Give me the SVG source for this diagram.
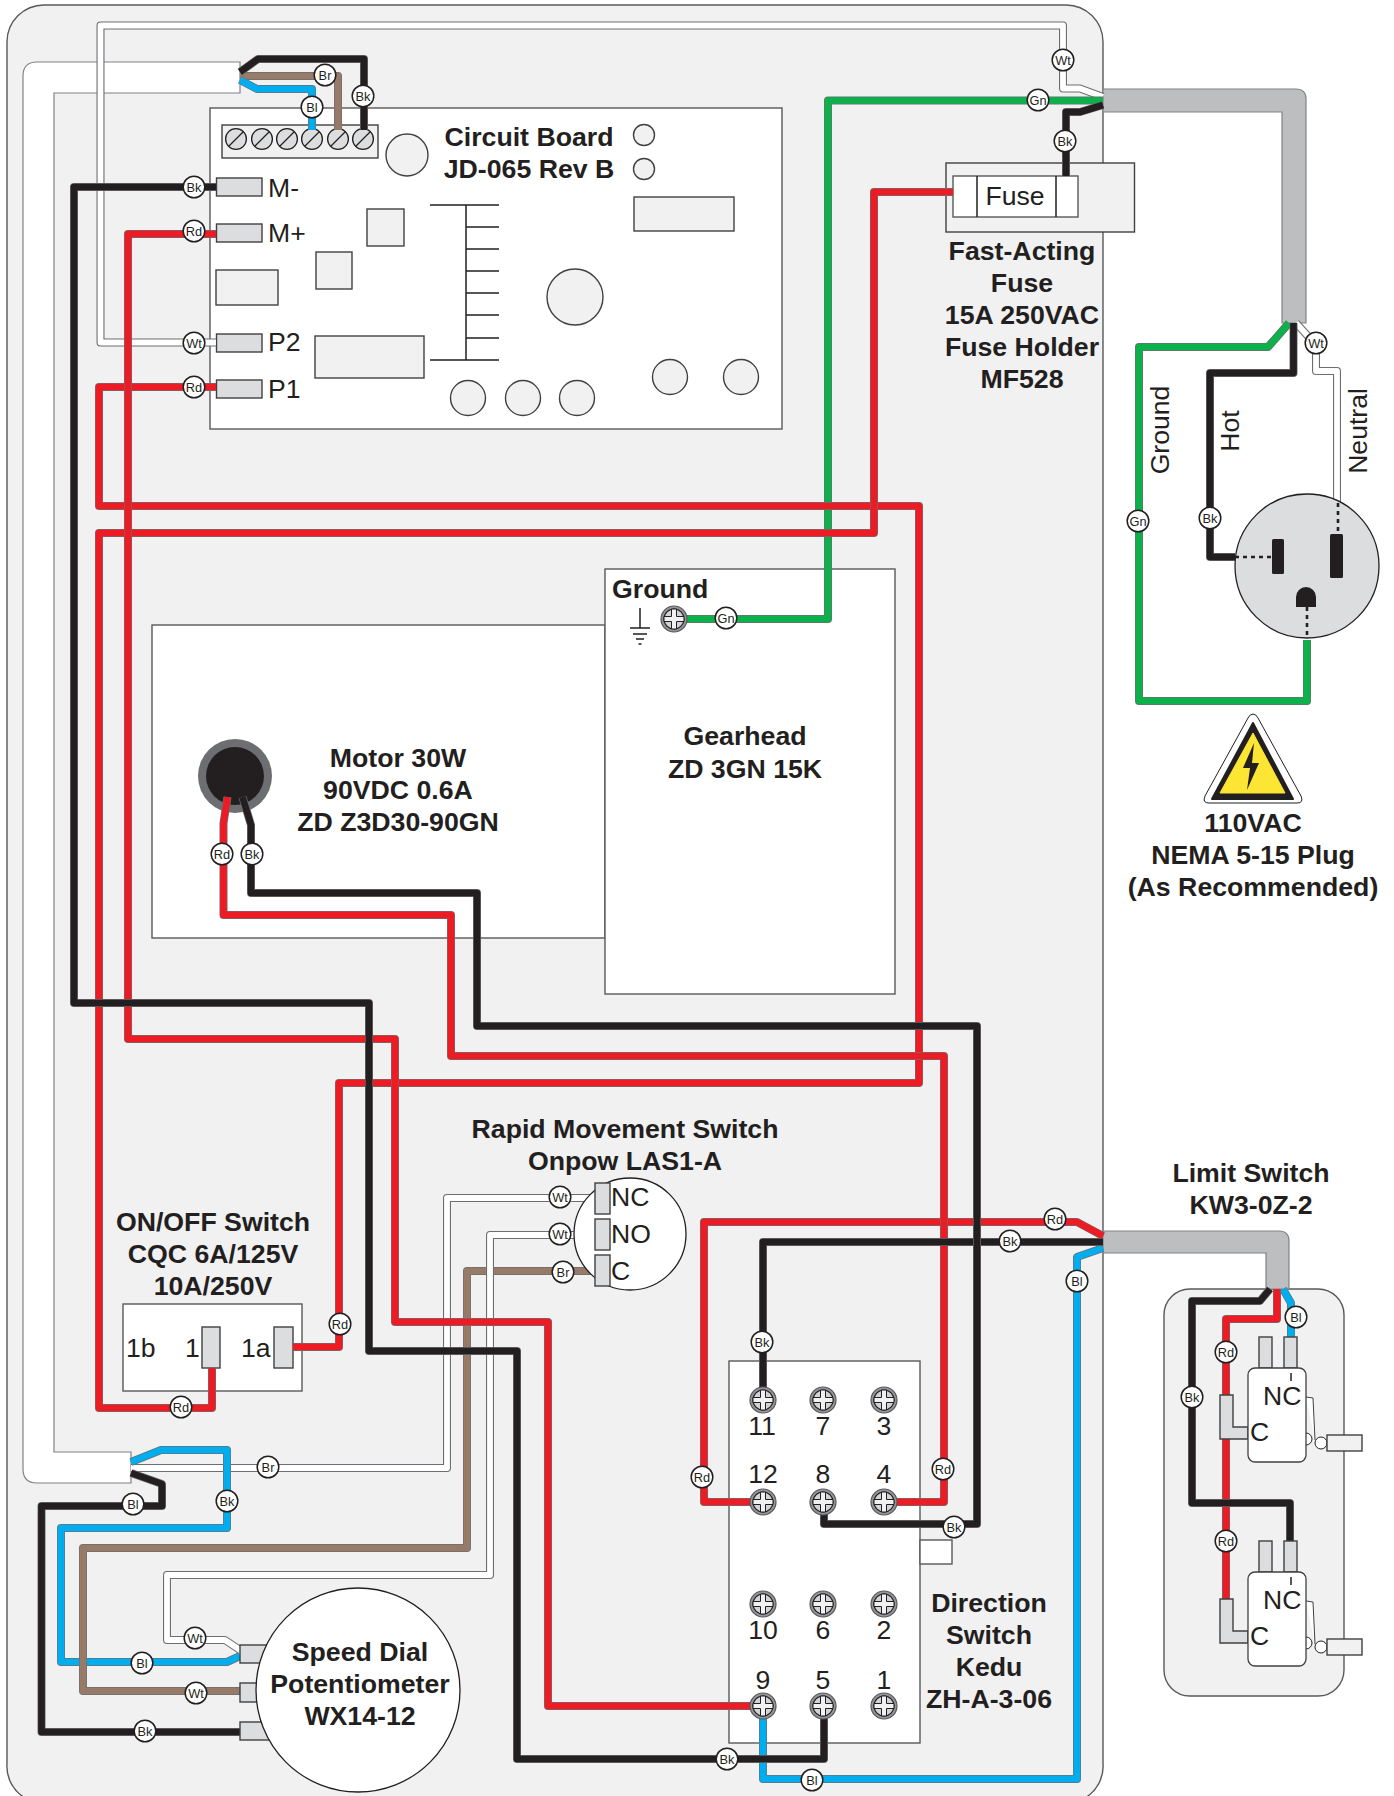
<svg xmlns="http://www.w3.org/2000/svg" width="1394" height="1796" viewBox="0 0 1394 1796">
<style>
text{font-family:"Liberation Sans",Arial,sans-serif;fill:#231f20}
.t{font-size:26.7px;font-weight:700;text-anchor:middle}
.r{font-size:26.6px}
.c{text-anchor:middle}
.box{fill:#fff;stroke:#58595b;stroke-width:1.4}
.pale{fill:#f1f1f2;stroke:#414042;stroke-width:1.4}
.term{fill:#dcddde;stroke:#414042;stroke-width:1.4}
.ln{fill:none;stroke:#231f20;stroke-width:1.5}
.wire path{fill:none;stroke-linejoin:round}
.cs{stroke:#6d6e71;stroke-width:8}
.rd{stroke:#ed1c24;stroke-width:6.6}
.bk{stroke:#231f20;stroke-width:6.6}
.gn{stroke:#0db14b;stroke-width:6.6}
.bl{stroke:#00aeef;stroke-width:6.6}
.br{stroke:#977b68;stroke-width:6.6}
.wt{stroke:#fff;stroke-width:5.8}
.lb circle{fill:#fff;stroke:#231f20;stroke-width:1.5}
.lb text{font-size:12.8px;text-anchor:middle}
.dot{fill:none;stroke:#231f20;stroke-width:2.6;stroke-dasharray:4 4}
</style>
<defs>
<g id="scr"><circle r="13" fill="#939598" stroke="#58595b" stroke-width="1.2"/><circle r="10" fill="#d1d3d4" stroke="#231f20" stroke-width="1.2"/><path d="M-10 -2.5H-2.5V-10H2.5V-2.5H10V2.5H2.5V10H-2.5V2.5H-10Z" fill="#f1f1f2" stroke="#231f20" stroke-width="1"/></g>
<g id="slot"><circle r="10.4" fill="#dcddde" stroke="#231f20" stroke-width="1.3"/><path d="M-7.5 7.5L7.5 -7.5" stroke="#231f20" stroke-width="1.3"/></g>
<g id="micro">
<rect x="1259" y="1337" width="13" height="31" class="term"/>
<rect x="1284" y="1337" width="13" height="31" class="term"/>
<path d="M1220 1395H1233V1427H1248V1439H1220Z" class="term"/>
<path d="M1306 1397L1313 1398L1315 1440" fill="#fff" stroke="#414042" stroke-width="1"/>
<path d="M1306 1433A6 6 0 0 1 1306 1445" fill="#fff" stroke="#231f20"/>
<rect x="1248" y="1368" width="58" height="94" rx="7" fill="#fff" stroke="#414042" stroke-width="1.3"/>
<circle cx="1321" cy="1443" r="6" fill="#fff" stroke="#231f20"/>
<rect x="1327" y="1435" width="35" height="16" class="pale"/>
<path d="M1291 1373V1381" class="ln"/>
</g>
</defs>

<path id="panel" d="M44 5H1066A37 37 0 0 1 1103 42V1763A37 37 0 0 1 1083 1799H27A37 37 0 0 1 7 1763V42A37 37 0 0 1 44 5Z" fill="#f1f1f2" stroke="#58595b" stroke-width="1.4"/>

<path id="cable-white" d="M240 62H37Q23 62 23 76V1469Q23 1483 37 1483H131V1452H54V93H240Z" fill="#fff" stroke="#808285" stroke-width="1.2"/>
<path id="cable-mains" d="M1103 89H1296Q1306 89 1306 99V323H1282V112H1103Z" fill="#bcbec0" stroke="#808285" stroke-width="1.2"/>

<g id="circuit-board">
<rect x="210" y="108" width="572" height="321" class="box"/>
<rect x="222" y="125" width="156" height="33" class="pale"/>
<use href="#slot" x="236" y="139"/><use href="#slot" x="262" y="139"/><use href="#slot" x="287" y="139"/><use href="#slot" x="312" y="139"/><use href="#slot" x="338" y="139"/><use href="#slot" x="363" y="139"/>
<circle cx="407" cy="155" r="21" class="pale"/>
<circle cx="644" cy="135" r="10.5" class="pale"/><circle cx="644" cy="169" r="10.5" class="pale"/>
<rect x="634" y="197" width="100" height="34" class="pale"/>
<rect x="367" y="209" width="37" height="37" class="pale"/>
<rect x="316" y="252" width="36" height="37" class="pale"/>
<rect x="216" y="270" width="62" height="35" class="pale"/>
<rect x="315" y="336" width="109" height="42" class="pale"/>
<path d="M430 205H499M466 205V360M430 360H499M466 227H499M466 249H499M466 271H499M466 293H499M466 315H499M466 338H499" class="ln"/>
<circle cx="575" cy="297" r="28" class="pale"/>
<circle cx="468" cy="398" r="17.5" class="pale"/><circle cx="523" cy="398" r="17.5" class="pale"/><circle cx="577" cy="398" r="17.5" class="pale"/><circle cx="670" cy="377" r="17.5" class="pale"/><circle cx="741" cy="377" r="17.5" class="pale"/>
<rect x="216.500" y="178" width="45.500" height="18" class="term"/>
<rect x="216.500" y="224" width="45.500" height="18" class="term"/>
<rect x="216.500" y="334" width="45.500" height="18" class="term"/>
<rect x="216.500" y="380" width="45.500" height="18" class="term"/>
<text x="268" y="197" class="r">M-</text><text x="268" y="242" class="r">M+</text><text x="268" y="351" class="r">P2</text><text x="268" y="398" class="r">P1</text>
<text x="529" y="146" class="t">Circuit Board</text><text x="529" y="178" class="t">JD-065 Rev B</text>
</g>

<g id="fuse">
<rect x="946" y="163" width="188.500" height="69" class="pale"/>
<rect x="953" y="176" width="125" height="41" class="box"/>
<path d="M977 176V217M1056 176V217" class="ln"/>
<text x="1015" y="205" class="r c">Fuse</text>
<text x="1022" y="260" class="t">Fast-Acting</text><text x="1022" y="292" class="t">Fuse</text><text x="1022" y="324" class="t">15A 250VAC</text><text x="1022" y="356" class="t">Fuse Holder</text><text x="1022" y="388" class="t">MF528</text>
</g>

<g id="motor">
<rect x="152" y="625" width="453" height="313" class="box"/>
<circle cx="235" cy="776" r="37" fill="#6d6e71"/><circle cx="235" cy="776" r="29" fill="#231f20"/>
<text x="398" y="767" class="t">Motor 30W</text><text x="398" y="799" class="t">90VDC 0.6A</text><text x="398" y="831" class="t">ZD Z3D30-90GN</text>
</g>
<g id="gearhead">
<rect x="605" y="569" width="290" height="425" class="box"/>
<text x="612" y="598" font-size="26.700" font-weight="700">Ground</text>
<path d="M640 608V628M630 628H650M633 634H647M636 639H644M638.500 644H641.500" class="ln"/>
<text x="745" y="745" class="t">Gearhead</text><text x="745" y="778" class="t">ZD 3GN 15K</text>
</g>
<g id="direction-switch">
<rect x="729" y="1361" width="191" height="382" class="box"/>
<rect x="920" y="1540" width="32" height="24" class="box"/>
<g class="r c">
<text x="762" y="1435">11</text><text x="823" y="1435">7</text><text x="884" y="1435">3</text>
<text x="763" y="1483">12</text><text x="823" y="1483">8</text><text x="884" y="1483">4</text>
<text x="763" y="1639">10</text><text x="823" y="1639">6</text><text x="884" y="1639">2</text>
<text x="763" y="1689">9</text><text x="823" y="1689">5</text><text x="884" y="1689">1</text>
</g>
<text x="989" y="1612" class="t">Direction</text><text x="989" y="1644" class="t">Switch</text><text x="989" y="1676" class="t">Kedu</text><text x="989" y="1708" class="t">ZH-A-3-06</text>
</g>
<g id="onoff-switch">
<rect x="123" y="1304" width="179" height="87" class="box"/>
<rect x="202" y="1327" width="18" height="41" class="term"/>
<rect x="274" y="1327" width="19" height="41" class="term"/>
<text x="126" y="1357" class="r">1b</text><text x="185" y="1357" class="r">1</text><text x="241" y="1357" class="r">1a</text>
<text x="213" y="1231" class="t">ON/OFF Switch</text><text x="213" y="1263" class="t">CQC 6A/125V</text><text x="213" y="1295" class="t">10A/250V</text>
</g>
<g id="limit-box">
<rect x="1164" y="1289" width="180" height="407" rx="26" fill="#f1f1f2" stroke="#58595b" stroke-width="1.4"/>
<text x="1251" y="1182" class="t">Limit Switch</text><text x="1251" y="1214" class="t">KW3-0Z-2</text>
</g>
<path id="cable-limit" d="M1103 1231H1279Q1289 1231 1289 1241V1289H1266V1253H1103Z" fill="#bcbec0" stroke="#808285" stroke-width="1.2"/>

<g id="connectors" class="wire">
<path class="cs" d="M216 342.500H100.500V25.500H1063V88.500H1080L1103 97"/><path class="wt" d="M216 342.500H100.500V25.500H1063V88.500H1080L1103 97"/>
<path class="cs" d="M131 1468H447V1198H596"/><path class="wt" d="M131 1468H447V1198H596"/>
<path class="cs" d="M1296 323L1316 345V371H1337V510"/><path class="wt" d="M1296 323L1316 345V371H1337V510"/>
<path class="cs" d="M131 1462L161 1450H227V1528H61V1662H227L240 1656"/><path class="bl" d="M131 1462L161 1450H227V1528H61V1662H227L240 1656"/>
<path class="cs" d="M596 1271H467V1548H83V1691H240"/><path class="br" d="M596 1271H467V1548H83V1691H240"/>
<path class="cs" d="M596 1235H490V1575H167V1640H225L240 1650"/><path class="wt" d="M596 1235H490V1575H167V1640H225L240 1650"/>
<path class="cs" d="M240 76H338V130"/><path class="br" d="M240 76H338V130"/>
<path class="cs" d="M240 80L257 89H312V130"/><path class="bl" d="M240 80L257 89H312V130"/>
<path class="cs" d="M240 72L258 59H364V130"/><path class="bk" d="M240 72L258 59H364V130"/>
<path class="cs" d="M1103 100.500H828V619H674"/><path class="gn" d="M1103 100.500H828V619H674"/>
<path class="cs" d="M1289 323L1268 347H1139V701H1307V640"/><path class="gn" d="M1289 323L1268 347H1139V701H1307V640"/>
<path class="cs" d="M216 387H99V506H919V1083H339V1347H293"/><path class="rd" d="M216 387H99V506H919V1083H339V1347H293"/>
<path class="cs" d="M953 192H874V533H99V1408H212V1368"/><path class="rd" d="M953 192H874V533H99V1408H212V1368"/>
<path class="cs" d="M763 1502H704V1222H1077L1103 1236"/><path class="rd" d="M763 1502H704V1222H1077L1103 1236"/>
<path class="cs" d="M227.500 797L223.500 823V915H451V1056H944V1502H884"/><path class="rd" d="M227.500 797L223.500 823V915H451V1056H944V1502H884"/>
<path class="cs" d="M216 234H128V1039H395V1322H548V1706H763"/><path class="rd" d="M216 234H128V1039H395V1322H548V1706H763"/>
<path class="cs" d="M763 1706V1779H1077V1257L1103 1248"/><path class="bl" d="M763 1706V1779H1077V1257L1103 1248"/>
<path class="cs" d="M763 1400V1242H1103"/><path class="bk" d="M763 1400V1242H1103"/>
<path class="cs" d="M242.500 797L251 825V893H477V1026H977V1524H824V1502"/><path class="bk" d="M242.500 797L251 825V893H477V1026H977V1524H824V1502"/>
<path class="cs" d="M216 187H74V1003H369V1351H517V1759H824V1706"/><path class="bk" d="M216 187H74V1003H369V1351H517V1759H824V1706"/>
<path class="cs" d="M131 1473L162 1484V1506H41.500V1732H240"/><path class="bk" d="M131 1473L162 1484V1506H41.500V1732H240"/>
<path class="cs" d="M1103 105L1080 112H1066V176"/><path class="bk" d="M1103 105L1080 112H1066V176"/>
<path class="cs" d="M1293.500 323V373H1210V557H1235"/><path class="bk" d="M1293.500 323V373H1210V557H1235"/>
<path class="cs" d="M1283 1289L1291 1303V1337"/><path class="bl" d="M1283 1289L1291 1303V1337"/>
<path class="cs" d="M1277 1289V1319H1226V1599"/><path class="rd" d="M1277 1289V1319H1226V1599"/>
<path class="cs" d="M1270 1289L1260 1301H1192V1503H1290V1541"/><path class="bk" d="M1270 1289L1260 1301H1192V1503H1290V1541"/>
</g>

<g id="screws">
<use href="#scr" x="674" y="619"/>
<use href="#scr" x="763" y="1400"/><use href="#scr" x="823" y="1400"/><use href="#scr" x="884" y="1400"/>
<use href="#scr" x="763" y="1502"/><use href="#scr" x="823" y="1502"/><use href="#scr" x="884" y="1502"/>
<use href="#scr" x="763" y="1604"/><use href="#scr" x="823" y="1604"/><use href="#scr" x="884" y="1604"/>
<use href="#scr" x="763" y="1706"/><use href="#scr" x="823" y="1706"/><use href="#scr" x="884" y="1706"/>
</g>

<g id="limit-switches">
<use href="#micro"/><use href="#micro" y="204"/>
<text x="1263" y="1405" class="r">NC</text><text x="1250" y="1441" class="r">C</text>
<text x="1263" y="1609" class="r">NC</text><text x="1250" y="1645" class="r">C</text>
</g>

<g id="rapid-switch">
<circle cx="630" cy="1234" r="56" fill="#fff" stroke="#231f20" stroke-width="1.3"/>
<rect x="595" y="1183" width="15" height="31" class="term"/>
<rect x="595" y="1219" width="15" height="31" class="term"/>
<rect x="595" y="1255" width="15" height="31" class="term"/>
<text x="611" y="1206" class="r">NC</text><text x="611" y="1243" class="r">NO</text><text x="611" y="1280" class="r">C</text>
<text x="625" y="1138" class="t">Rapid Movement Switch</text><text x="625" y="1170" class="t">Onpow LAS1-A</text>
</g>

<g id="potentiometer">
<rect x="240" y="1645" width="30" height="18" class="term"/>
<rect x="240" y="1683" width="30" height="19" class="term"/>
<rect x="240" y="1722" width="30" height="18" class="term"/>
<circle cx="358" cy="1690" r="102" fill="#fff" stroke="#231f20" stroke-width="1.3"/>
<text x="360" y="1661" class="t">Speed Dial</text><text x="360" y="1693" class="t">Potentiometer</text><text x="360" y="1725" class="t">WX14-12</text>
</g>

<g id="plug">
<circle cx="1307" cy="566" r="72" fill="#dcddde" stroke="#231f20" stroke-width="1.3"/>
<rect x="1272" y="539" width="12" height="35" rx="1.500" fill="#231f20"/>
<rect x="1330" y="534" width="13" height="44" rx="1.500" fill="#231f20"/>
<path d="M1296 607V597A10 10 0 0 1 1316 597V607Z" fill="#231f20"/>
<path d="M1235 557H1272M1338 503V534M1307 607V638" class="dot"/>
<text transform="translate(1169 430) rotate(-90)" class="r c">Ground</text>
<text transform="translate(1239 431) rotate(-90)" class="r c">Hot</text>
<text transform="translate(1367 431) rotate(-90)" class="r c">Neutral</text>
</g>

<g id="warning">
<path d="M1253 714Q1256 714 1258 718L1301 796Q1304 803 1297 803H1209Q1202 803 1205 796L1248 718Q1250 714 1253 714Z" fill="#fff" stroke="#231f20" stroke-width="1"/>
<path d="M1253 723L1293 799H1212Z" fill="#231f20" stroke="#231f20" stroke-width="2" stroke-linejoin="round"/>
<path d="M1253 733L1285 793H1220Z" fill="#fce533" stroke="#fce533" stroke-width="1" stroke-linejoin="round"/>
<path d="M1254 743L1243 768H1250L1247 790L1259 763H1252Z" fill="#231f20"/>
<text x="1253" y="832" class="t">110VAC</text><text x="1253" y="864" class="t">NEMA 5-15 Plug</text><text x="1253" y="896" class="t">(As Recommended)</text>
</g>

<g id="labels" class="lb">
<g><circle cx="325" cy="75" r="10.800"/><text x="325" y="79.500">Br</text></g>
<g><circle cx="363" cy="96" r="10.800"/><text x="363" y="100.500">Bk</text></g>
<g><circle cx="312" cy="107" r="10.800"/><text x="312" y="111.500">Bl</text></g>
<g><circle cx="194" cy="187" r="10.800"/><text x="194" y="191.500">Bk</text></g>
<g><circle cx="194" cy="231" r="10.800"/><text x="194" y="235.500">Rd</text></g>
<g><circle cx="194" cy="343" r="10.800"/><text x="194" y="347.500">Wt</text></g>
<g><circle cx="194" cy="387" r="10.800"/><text x="194" y="391.500">Rd</text></g>
<g><circle cx="1063" cy="60" r="10.800"/><text x="1063" y="64.500">Wt</text></g>
<g><circle cx="1038" cy="100" r="10.800"/><text x="1038" y="104.500">Gn</text></g>
<g><circle cx="1065" cy="141" r="10.800"/><text x="1065" y="145.500">Bk</text></g>
<g><circle cx="1316" cy="343" r="10.800"/><text x="1316" y="347.500">Wt</text></g>
<g><circle cx="1138" cy="521" r="10.800"/><text x="1138" y="525.500">Gn</text></g>
<g><circle cx="1210" cy="518" r="10.800"/><text x="1210" y="522.500">Bk</text></g>
<g><circle cx="726" cy="618" r="10.800"/><text x="726" y="622.500">Gn</text></g>
<g><circle cx="222" cy="854" r="10.800"/><text x="222" y="858.500">Rd</text></g>
<g><circle cx="252" cy="854" r="10.800"/><text x="252" y="858.500">Bk</text></g>
<g><circle cx="560" cy="1197" r="10.800"/><text x="560" y="1201.500">Wt</text></g>
<g><circle cx="560" cy="1234" r="10.800"/><text x="560" y="1238.500">Wt</text></g>
<g><circle cx="563" cy="1272" r="10.800"/><text x="563" y="1276.500">Br</text></g>
<g><circle cx="1055" cy="1219" r="10.800"/><text x="1055" y="1223.500">Rd</text></g>
<g><circle cx="1010" cy="1241" r="10.800"/><text x="1010" y="1245.500">Bk</text></g>
<g><circle cx="1077" cy="1281" r="10.800"/><text x="1077" y="1285.500">Bl</text></g>
<g><circle cx="762" cy="1342" r="10.800"/><text x="762" y="1346.500">Bk</text></g>
<g><circle cx="340" cy="1324" r="10.800"/><text x="340" y="1328.500">Rd</text></g>
<g><circle cx="181" cy="1407" r="10.800"/><text x="181" y="1411.500">Rd</text></g>
<g><circle cx="702" cy="1477" r="10.800"/><text x="702" y="1481.500">Rd</text></g>
<g><circle cx="943" cy="1469" r="10.800"/><text x="943" y="1473.500">Rd</text></g>
<g><circle cx="954" cy="1527" r="10.800"/><text x="954" y="1531.500">Bk</text></g>
<g><circle cx="727" cy="1759" r="10.800"/><text x="727" y="1763.500">Bk</text></g>
<g><circle cx="812" cy="1780" r="10.800"/><text x="812" y="1784.500">Bl</text></g>
<g><circle cx="268" cy="1467" r="10.800"/><text x="268" y="1471.500">Br</text></g>
<g><circle cx="227" cy="1501" r="10.800"/><text x="227" y="1505.500">Bk</text></g>
<g><circle cx="133" cy="1504" r="10.800"/><text x="133" y="1508.500">Bl</text></g>
<g><circle cx="195" cy="1638" r="10.800"/><text x="195" y="1642.500">Wt</text></g>
<g><circle cx="142" cy="1663" r="10.800"/><text x="142" y="1667.500">Bl</text></g>
<g><circle cx="196" cy="1693" r="10.800"/><text x="196" y="1697.500">Wt</text></g>
<g><circle cx="145" cy="1731" r="10.800"/><text x="145" y="1735.500">Bk</text></g>
<g><circle cx="1296" cy="1317" r="10.800"/><text x="1296" y="1321.500">Bl</text></g>
<g><circle cx="1226" cy="1352" r="10.800"/><text x="1226" y="1356.500">Rd</text></g>
<g><circle cx="1192" cy="1397" r="10.800"/><text x="1192" y="1401.500">Bk</text></g>
<g><circle cx="1226" cy="1541" r="10.800"/><text x="1226" y="1545.500">Rd</text></g>
</g>
</svg>
